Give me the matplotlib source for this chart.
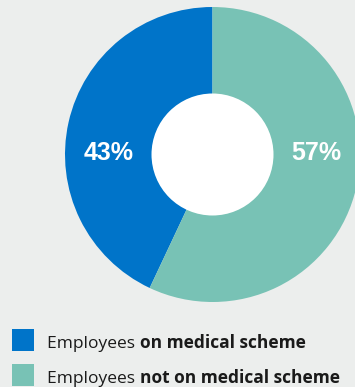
import matplotlib
matplotlib.use("Agg")
from matplotlib import pyplot as plt
from matplotlib.patches import Circle, Rectangle

# Share of employees by medical scheme membership
shares = [43, 57]
label_plain = ["Employees ", "Employees "]
label_bold = ["on medical scheme", "not on medical scheme"]
colors = ["#0074c9", "#78c2b5"]

bg = "#eceeed"
plt.rcParams["font.family"] = ["Open Sans", "DejaVu Sans"]

fig = plt.figure(figsize=(3.55, 3.87), dpi=100, facecolor=bg)
ax = fig.add_axes([0, 0, 1, 1])

# donut, first slice drawn anticlockwise from 12 o'clock
cx, cy, r_out, r_in = 212.5, 232.5, 147.5, 61
wedges, _ = ax.pie(shares, colors=colors, startangle=90, counterclock=True,
                   center=(cx, cy), radius=r_out, frame=True,
                   wedgeprops=dict(linewidth=0))
ax.add_patch(Circle((cx, cy), r_in, facecolor="white", edgecolor="none", zorder=3))
ax.set_xlim(0, 355)
ax.set_ylim(0, 387)
ax.set_aspect("equal")
ax.axis("off")

# percentage labels sit level with the centre, midway across the ring
r_mid = (r_out + r_in) / 2
for val, side in zip(shares, (-1, 1)):
    ax.text(cx + side * r_mid, cy + 2, f"{val}%",
            family=["Liberation Sans", "DejaVu Sans"],
            color="white", fontsize=18, fontweight="bold",
            ha="center", va="center", zorder=4)

# legend: colour squares with partly bold labels
for i, (plain, bold, col) in enumerate(zip(label_plain, label_bold, colors)):
    top = 387 - 329 - i * 35
    ax.add_patch(Rectangle((12, top - 22), 22, 22, facecolor=col, edgecolor="none"))
    t = ax.text(47, top - 19, plain, fontsize=12.5, color="#1a1a1a",
                ha="left", va="baseline")
    ax.annotate(bold, xy=(1, 0), xycoords=t, fontsize=12.5, fontweight="bold",
                color="#1a1a1a", ha="left", va="bottom")

fig.savefig("out.png", dpi=100, facecolor=bg)
